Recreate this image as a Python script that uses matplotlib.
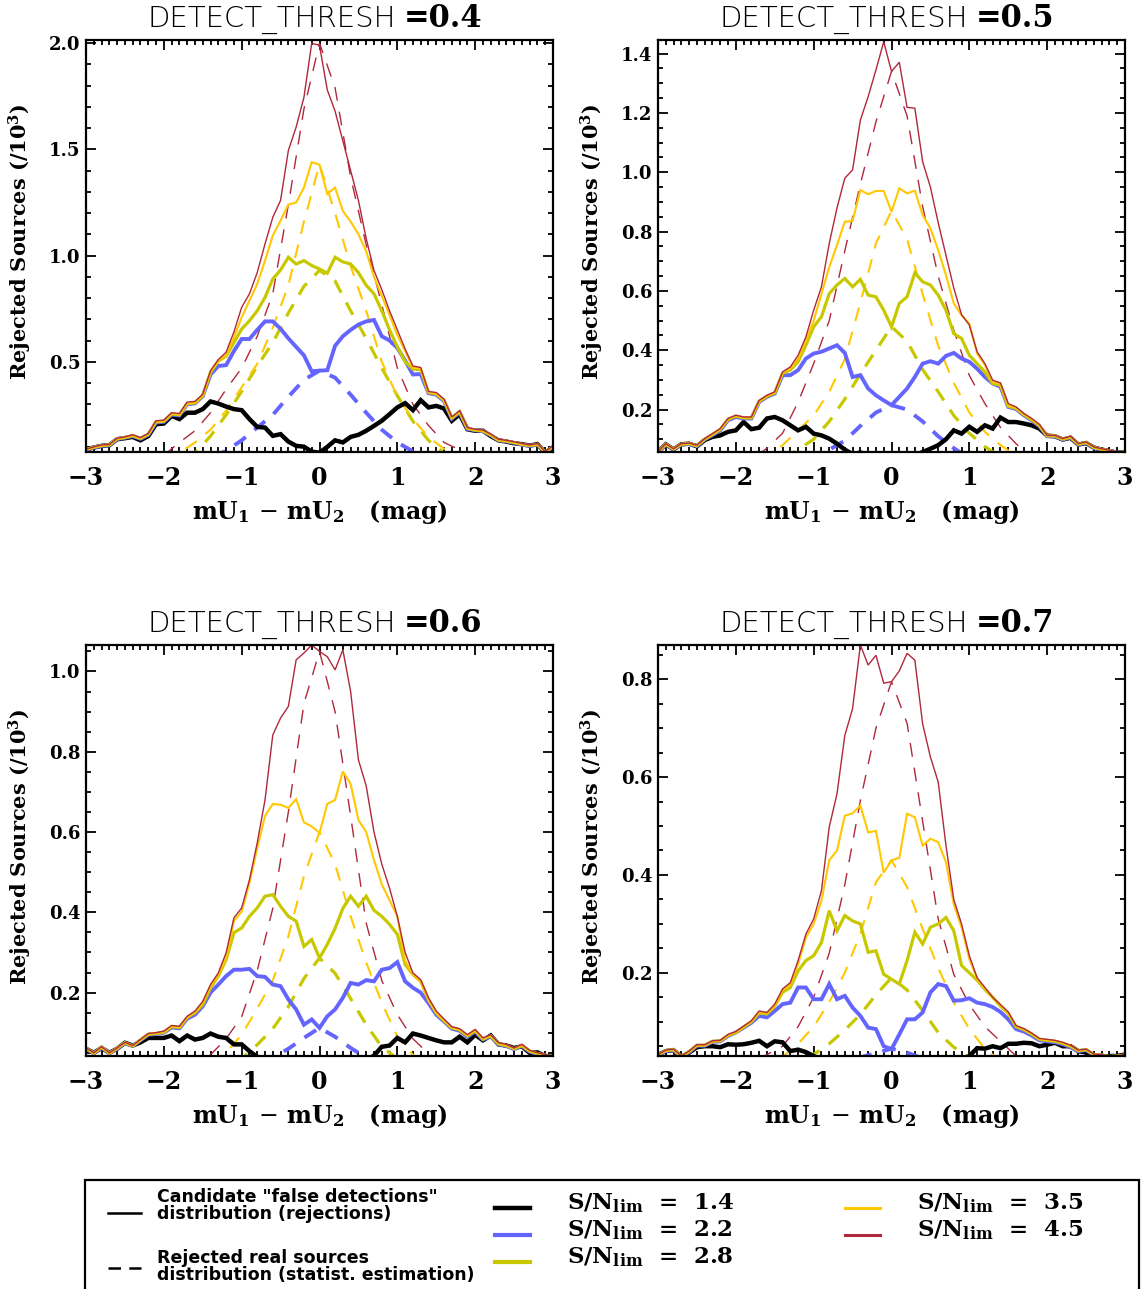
import numpy as np
import matplotlib
matplotlib.use('Agg')
import matplotlib.pyplot as plt
from matplotlib.lines import Line2D
from matplotlib.patches import Rectangle
from matplotlib.ticker import MultipleLocator, FormatStrFormatter

plt.rcParams['mathtext.fontset'] = 'dejavuserif'
plt.rcParams['lines.scale_dashes'] = False
plt.rcParams['axes.unicode_minus'] = True

# ---------------- data ----------------
thresholds = ['0.4', '0.5', '0.6', '0.7']
sn_labels = ['1.4', '2.2', '2.8', '3.5', '4.5']
x_bins = np.linspace(-3.0, 3.0, 61)     # bin centres (mag)
x_dash = np.linspace(-2.0, 2.0, 21)     # estimation grid (mag)

# Panel 1 : DETECT_THRESH = 0.4  (solid: rejections, /10^3)
black1 = [0.088,0.096,0.104,0.107,0.135,0.140,0.146,0.130,0.150,0.206,
          0.209,0.245,0.230,0.260,0.260,0.277,0.313,0.303,0.289,0.277,
          0.272,0.230,0.193,0.190,0.151,0.159,0.124,0.104,0.100,0.077,
          0.072,0.099,0.130,0.120,0.146,0.156,0.175,0.198,0.222,0.253,
          0.285,0.305,0.272,0.319,0.285,0.292,0.280,0.222,0.253,0.182,
          0.175,0.175,0.150,0.130,0.124,0.116,0.112,0.105,0.112,0.072,0.096]
blue1 = [0.086,0.096,0.104,0.107,0.136,0.142,0.150,0.137,0.156,0.214,
         0.217,0.251,0.247,0.300,0.304,0.338,0.440,0.480,0.484,0.550,
         0.607,0.607,0.650,0.690,0.690,0.655,0.610,0.570,0.530,0.455,
         0.458,0.460,0.575,0.620,0.650,0.675,0.690,0.697,0.620,0.600,
         0.565,0.505,0.440,0.442,0.352,0.345,0.315,0.232,0.262,0.184,
         0.177,0.173,0.154,0.130,0.125,0.118,0.110,0.104,0.110,0.073,0.099]
green1 = [0.087,0.097,0.105,0.108,0.137,0.143,0.152,0.139,0.158,0.217,
          0.220,0.254,0.250,0.303,0.306,0.340,0.450,0.503,0.526,0.590,
          0.654,0.693,0.740,0.803,0.890,0.932,0.992,0.960,0.976,0.953,
          0.937,0.917,0.992,0.970,0.960,0.920,0.860,0.820,0.740,0.650,
          0.570,0.500,0.465,0.463,0.355,0.348,0.318,0.235,0.264,0.186,
          0.178,0.174,0.155,0.131,0.126,0.119,0.111,0.105,0.111,0.074,0.100]
gold1 = [0.087,0.097,0.106,0.108,0.138,0.144,0.153,0.140,0.159,0.218,
         0.221,0.256,0.252,0.305,0.308,0.342,0.454,0.505,0.530,0.615,
         0.709,0.788,0.866,0.976,1.094,1.165,1.240,1.250,1.320,1.440,
         1.428,1.290,1.320,1.210,1.160,1.100,1.020,0.900,0.810,0.720,
         0.625,0.550,0.473,0.468,0.357,0.350,0.320,0.236,0.266,0.187,
         0.179,0.175,0.156,0.132,0.127,0.120,0.112,0.106,0.112,0.075,0.101]
red1 = [0.088,0.099,0.108,0.110,0.140,0.146,0.156,0.143,0.162,0.222,
        0.225,0.260,0.256,0.310,0.313,0.347,0.458,0.510,0.545,0.640,
        0.756,0.820,0.920,1.055,1.180,1.260,1.495,1.605,1.745,2.000,
        1.990,1.780,1.680,1.540,1.400,1.260,1.080,0.930,0.840,0.740,
        0.650,0.560,0.480,0.473,0.360,0.355,0.324,0.240,0.270,0.190,
        0.182,0.178,0.159,0.135,0.130,0.123,0.115,0.108,0.115,0.077,0.104]
d_blue1 = [0.0,0.01,0.03,0.05,0.08,0.13,0.19,0.25,0.335,0.415,0.458,0.425,0.345,0.26,0.18,0.12,0.078,0.05,0.03,0.01,0.0]
d_green1 = [0.0,0.02,0.07,0.15,0.25,0.36,0.48,0.59,0.73,0.855,0.93,0.88,0.74,0.61,0.47,0.34,0.22,0.13,0.07,0.02,0.0]
d_gold1 = [0.03,0.07,0.12,0.18,0.27,0.38,0.49,0.66,0.86,1.16,1.43,1.2,0.95,0.74,0.5,0.335,0.23,0.145,0.09,0.05,0.02]
d_red1 = [0.06,0.12,0.175,0.26,0.37,0.47,0.62,0.82,1.24,1.69,2.0,1.79,1.37,1.05,0.77,0.47,0.3,0.2,0.12,0.085,0.06]

# Panel 2 : DETECT_THRESH = 0.5
black2 = [0.057,0.083,0.066,0.083,0.085,0.076,0.097,0.108,0.113,0.125,
          0.130,0.158,0.134,0.139,0.170,0.175,0.164,0.147,0.130,0.142,
          0.119,0.113,0.102,0.085,0.065,0.050,0.055,0.050,0.040,0.040,
          0.040,0.040,0.040,0.045,0.057,0.068,0.080,0.100,0.130,0.119,
          0.142,0.125,0.147,0.136,0.173,0.158,0.158,0.153,0.147,0.136,
          0.112,0.110,0.099,0.105,0.082,0.087,0.072,0.065,0.060,0.055,0.057]
blue2 = [0.055,0.082,0.066,0.082,0.084,0.077,0.099,0.114,0.130,0.164,
         0.175,0.170,0.170,0.226,0.243,0.254,0.316,0.316,0.333,0.372,
         0.389,0.395,0.406,0.417,0.391,0.310,0.316,0.271,0.248,0.231,
         0.215,0.243,0.271,0.310,0.355,0.363,0.355,0.381,0.391,0.372,
         0.361,0.338,0.310,0.288,0.277,0.209,0.202,0.181,0.164,0.144,
         0.110,0.110,0.099,0.106,0.082,0.088,0.071,0.065,0.060,0.055,0.057]
green2 = [0.056,0.083,0.067,0.083,0.085,0.078,0.100,0.116,0.133,0.167,
          0.178,0.172,0.172,0.228,0.245,0.256,0.322,0.333,0.361,0.417,
          0.479,0.513,0.591,0.620,0.642,0.614,0.639,0.586,0.580,0.535,
          0.479,0.558,0.580,0.661,0.631,0.620,0.586,0.535,0.456,0.440,
          0.383,0.355,0.327,0.288,0.282,0.211,0.204,0.183,0.166,0.146,
          0.111,0.111,0.100,0.107,0.083,0.089,0.072,0.066,0.061,0.055,0.058]
gold2 = [0.056,0.084,0.067,0.084,0.086,0.079,0.101,0.117,0.134,0.168,
         0.179,0.173,0.173,0.229,0.246,0.258,0.325,0.338,0.372,0.434,
         0.500,0.590,0.680,0.755,0.833,0.836,0.940,0.926,0.937,0.937,
         0.867,0.946,0.929,0.938,0.856,0.811,0.738,0.653,0.558,0.518,
         0.490,0.389,0.350,0.293,0.288,0.215,0.206,0.185,0.168,0.148,
         0.112,0.112,0.101,0.108,0.084,0.090,0.073,0.067,0.062,0.056,0.059]
red2 = [0.057,0.085,0.068,0.085,0.087,0.080,0.102,0.119,0.136,0.170,
        0.181,0.175,0.175,0.231,0.248,0.260,0.327,0.344,0.383,0.445,
        0.535,0.614,0.760,0.880,0.980,1.008,1.176,1.255,1.345,1.440,
        1.340,1.371,1.219,1.216,1.036,0.950,0.830,0.720,0.610,0.520,
        0.485,0.395,0.355,0.299,0.290,0.220,0.209,0.187,0.170,0.150,
        0.113,0.113,0.102,0.110,0.085,0.091,0.074,0.068,0.063,0.057,0.060]
d_blue2 = [0,0,0,0,0.01,0.035,0.065,0.095,0.145,0.19,0.215,0.2,0.16,0.11,0.07,0.035,0.01,0,0,0,0]
d_green2 = [0,0,0.01,0.03,0.065,0.1,0.16,0.235,0.32,0.4,0.48,0.43,0.335,0.26,0.18,0.12,0.075,0.04,0.02,0,0]
d_gold2 = [0,0.02,0.04,0.08,0.13,0.18,0.26,0.37,0.56,0.76,0.87,0.775,0.59,0.415,0.29,0.19,0.125,0.08,0.045,0.02,0]
d_red2 = [0,0.03,0.07,0.12,0.225,0.355,0.5,0.735,0.96,1.17,1.34,1.19,0.885,0.65,0.468,0.315,0.22,0.14,0.085,0.035,0]

# Panel 3 : DETECT_THRESH = 0.6
black3 = [0.060,0.050,0.062,0.050,0.060,0.075,0.068,0.076,0.087,0.087,
          0.087,0.093,0.079,0.093,0.083,0.087,0.098,0.090,0.087,0.071,
          0.071,0.054,0.040,0.030,0.030,0.030,0.030,0.030,0.030,0.030,
          0.030,0.030,0.030,0.030,0.030,0.030,0.030,0.043,0.065,0.068,
          0.087,0.076,0.098,0.093,0.087,0.081,0.076,0.076,0.090,0.076,
          0.095,0.081,0.093,0.071,0.068,0.062,0.066,0.050,0.051,0.042,0.040]
blue3 = [0.060,0.049,0.063,0.049,0.060,0.074,0.067,0.081,0.095,0.097,
         0.100,0.113,0.111,0.135,0.145,0.166,0.200,0.220,0.241,0.257,
         0.257,0.259,0.241,0.239,0.220,0.216,0.183,0.158,0.120,0.133,
         0.112,0.141,0.158,0.187,0.224,0.220,0.231,0.228,0.257,0.261,
         0.276,0.228,0.212,0.200,0.174,0.145,0.128,0.110,0.105,0.090,
         0.103,0.083,0.091,0.071,0.067,0.059,0.067,0.053,0.047,0.043,0.040]
green3 = [0.061,0.049,0.064,0.049,0.061,0.075,0.067,0.082,0.096,0.098,
          0.101,0.115,0.113,0.138,0.150,0.170,0.212,0.241,0.282,0.349,
          0.361,0.390,0.411,0.440,0.444,0.415,0.390,0.378,0.315,0.332,
          0.286,0.320,0.360,0.410,0.440,0.415,0.440,0.405,0.390,0.370,
          0.345,0.270,0.245,0.228,0.183,0.149,0.130,0.112,0.107,0.092,
          0.105,0.084,0.092,0.072,0.068,0.060,0.068,0.054,0.048,0.044,0.041]
gold3 = [0.061,0.049,0.064,0.049,0.061,0.075,0.067,0.082,0.097,0.099,
         0.102,0.116,0.114,0.139,0.152,0.176,0.216,0.245,0.286,0.378,
         0.402,0.473,0.560,0.640,0.670,0.668,0.660,0.682,0.624,0.614,
         0.598,0.670,0.680,0.751,0.720,0.630,0.600,0.530,0.470,0.430,
         0.390,0.280,0.245,0.228,0.180,0.150,0.131,0.113,0.108,0.093,
         0.106,0.085,0.093,0.073,0.069,0.061,0.069,0.055,0.049,0.045,0.041]
red3 = [0.062,0.050,0.065,0.050,0.062,0.076,0.068,0.083,0.098,0.100,
        0.104,0.118,0.116,0.141,0.154,0.178,0.220,0.249,0.299,0.386,
        0.411,0.481,0.573,0.680,0.842,0.884,0.913,1.029,1.046,1.066,
        1.050,1.037,1.004,1.054,0.950,0.780,0.715,0.600,0.520,0.460,
        0.390,0.300,0.249,0.232,0.187,0.154,0.134,0.115,0.110,0.095,
        0.108,0.087,0.095,0.075,0.071,0.062,0.071,0.056,0.050,0.046,0.042]
d_blue3 = [0,0,0,0,0,0,0.02,0.038,0.06,0.087,0.112,0.09,0.062,0.038,0.02,0,0,0,0,0,0]
d_green3 = [0,0,0,0,0.01,0.035,0.07,0.11,0.165,0.235,0.286,0.248,0.185,0.12,0.065,0.035,0.01,0,0,0,0]
d_gold3 = [0,0,0,0.015,0.05,0.095,0.16,0.23,0.34,0.49,0.6,0.52,0.39,0.275,0.175,0.09,0.045,0.02,0,0,0]
d_red3 = [0,0.005,0.02,0.045,0.085,0.14,0.255,0.41,0.65,0.92,1.05,0.9,0.64,0.373,0.23,0.145,0.085,0.048,0.02,0.005,0]

# Panel 4 : DETECT_THRESH = 0.7
black4 = [0.032,0.040,0.042,0.028,0.037,0.048,0.050,0.050,0.048,0.054,
          0.053,0.054,0.057,0.061,0.050,0.060,0.058,0.040,0.043,0.038,
          0.030,0.020,0.015,0.015,0.015,0.015,0.015,0.015,0.015,0.015,
          0.015,0.015,0.015,0.015,0.015,0.015,0.015,0.015,0.015,0.020,
          0.030,0.046,0.045,0.050,0.046,0.055,0.055,0.057,0.056,0.050,
          0.053,0.057,0.050,0.050,0.040,0.037,0.030,0.028,0.030,0.030,0.033]
blue4 = [0.031,0.040,0.042,0.028,0.038,0.051,0.051,0.059,0.060,0.071,
         0.078,0.088,0.098,0.112,0.109,0.122,0.136,0.139,0.170,0.170,
         0.146,0.146,0.177,0.146,0.153,0.129,0.112,0.088,0.085,0.050,
         0.044,0.074,0.105,0.105,0.119,0.160,0.177,0.173,0.143,0.144,
         0.148,0.139,0.136,0.130,0.120,0.105,0.085,0.080,0.072,0.062,
         0.060,0.058,0.054,0.048,0.040,0.042,0.032,0.031,0.028,0.029,0.031]
green4 = [0.032,0.041,0.043,0.029,0.039,0.052,0.052,0.060,0.061,0.072,
          0.078,0.089,0.100,0.118,0.116,0.132,0.160,0.170,0.204,0.225,
          0.235,0.262,0.327,0.286,0.317,0.306,0.300,0.242,0.245,0.197,
          0.187,0.177,0.225,0.283,0.259,0.293,0.300,0.313,0.286,0.215,
          0.200,0.185,0.166,0.150,0.132,0.117,0.090,0.084,0.075,0.064,
          0.062,0.060,0.056,0.050,0.041,0.043,0.033,0.032,0.029,0.030,0.032]
gold4 = [0.032,0.041,0.043,0.029,0.039,0.052,0.052,0.060,0.061,0.073,
         0.079,0.090,0.101,0.120,0.118,0.134,0.165,0.177,0.218,0.272,
         0.300,0.347,0.430,0.450,0.521,0.526,0.542,0.487,0.490,0.405,
         0.430,0.435,0.525,0.518,0.460,0.474,0.467,0.426,0.340,0.293,
         0.228,0.188,0.168,0.151,0.134,0.118,0.091,0.085,0.076,0.065,
         0.063,0.061,0.057,0.051,0.041,0.043,0.033,0.032,0.029,0.030,0.032]
red4 = [0.033,0.042,0.044,0.030,0.040,0.053,0.053,0.061,0.062,0.074,
        0.080,0.091,0.102,0.122,0.119,0.136,0.167,0.180,0.225,0.279,
        0.310,0.368,0.498,0.566,0.685,0.740,0.870,0.829,0.849,0.792,
        0.795,0.817,0.853,0.839,0.709,0.641,0.590,0.460,0.350,0.300,
        0.235,0.190,0.170,0.150,0.135,0.120,0.092,0.086,0.077,0.066,
        0.064,0.062,0.058,0.052,0.042,0.044,0.034,0.033,0.030,0.031,0.033]
d_blue4 = [0,0,0,0,0,0,0,0.015,0.027,0.036,0.045,0.037,0.025,0.012,0,0,0,0,0,0,0]
d_green4 = [0,0,0,0,0.015,0.033,0.055,0.083,0.115,0.155,0.19,0.165,0.123,0.078,0.048,0.028,0.012,0,0,0,0]
d_gold4 = [0,0,0,0.028,0.055,0.09,0.14,0.2,0.28,0.385,0.43,0.375,0.29,0.21,0.14,0.085,0.045,0.02,0,0,0]
d_red4 = [0.005,0.015,0.033,0.05,0.09,0.15,0.24,0.38,0.552,0.7,0.795,0.71,0.51,0.31,0.197,0.135,0.09,0.06,0.03,0.012,0]

solid_sets = [[black1, blue1, green1, gold1, red1],
              [black2, blue2, green2, gold2, red2],
              [black3, blue3, green3, gold3, red3],
              [black4, blue4, green4, gold4, red4]]
dash_sets = [[d_blue1, d_green1, d_gold1, d_red1],
             [d_blue2, d_green2, d_gold2, d_red2],
             [d_blue3, d_green3, d_gold3, d_red3],
             [d_blue4, d_green4, d_gold4, d_red4]]

# ---------------- style ----------------
colors = ['#000000', '#6464FF', '#C8C800', '#FFC800', '#B0283C']
solid_lw = [3.2, 2.8, 2.3, 1.5, 1.0]
dash_lw = [2.8, 2.3, 1.5, 1.0]
ylims = [(0.075, 2.015), (0.057, 1.446), (0.042, 1.066), (0.03, 0.87)]
ymaj = [0.5, 0.2, 0.2, 0.2]
ymin = [0.1, 0.05, 0.05, 0.05]

W, H = 1142, 1289
fig = plt.figure(figsize=(W / 100, H / 100), dpi=100)

def fx(px):
    return px / W

def fy(py):
    return 1 - py / H

rects = [(86, 40, 553, 452), (658, 40, 1125, 452),
         (86, 645, 553, 1056), (658, 645, 1125, 1056)]

serif = 'DejaVu Serif'
for i, (l, t, r, b) in enumerate(rects):
    ax = fig.add_axes([fx(l), fy(b), fx(r) - fx(l), (b - t) / H])
    for j, d in enumerate(dash_sets[i]):
        ax.plot(x_dash, d, color=colors[j + 1], lw=dash_lw[j], dashes=(10, 8))
    for j, s in enumerate(solid_sets[i]):
        ax.plot(x_bins, s, color=colors[j], lw=solid_lw[j], solid_joinstyle='miter')
    ax.set_xlim(-3, 3)
    ax.set_ylim(*ylims[i])
    ax.xaxis.set_major_locator(MultipleLocator(1))
    ax.xaxis.set_minor_locator(MultipleLocator(0.1))
    ax.yaxis.set_major_locator(MultipleLocator(ymaj[i]))
    ax.yaxis.set_minor_locator(MultipleLocator(ymin[i]))
    ax.yaxis.set_major_formatter(FormatStrFormatter('%.1f'))
    ax.tick_params(which='both', direction='in', top=True, right=True, width=1.3)
    ax.tick_params(which='major', length=7)
    ax.tick_params(which='minor', length=3.5)
    ax.tick_params(axis='x', which='major', pad=10, labelsize=17)
    ax.tick_params(axis='y', which='major', pad=4, labelsize=13)
    for lab in ax.get_xticklabels() + ax.get_yticklabels():
        lab.set_family(serif)
        lab.set_fontweight('bold')
    for sp in ax.spines.values():
        sp.set_linewidth(1.6)
    ax.set_xlabel(r'mU$_\mathbf{1}$ $-$ mU$_\mathbf{2}$   (mag)', fontsize=17,
                  family=serif, fontweight='bold')
    ax.xaxis.set_label_coords(0.5, -0.145)
    ax.xaxis.label.set_va('center')
    ax.set_ylabel(r'Rejected Sources (/10$^\mathbf{3}$)', fontsize=15,
                  family=serif, fontweight='bold')
    ax.yaxis.set_label_coords(-0.14, 0.51)
    ax.yaxis.label.set_va('center')
    ax.text(0.664, 1.032, 'DETECT_THRESH', transform=ax.transAxes,
            ha='right', va='baseline', fontsize=21,
            family='DejaVu Sans', fontweight='light')
    ax.text(0.681, 1.032, '=' + thresholds[i], transform=ax.transAxes,
            ha='left', va='baseline', fontsize=22, family=serif, fontweight='bold')

# ---------------- legend box ----------------
fig.add_artist(Rectangle((fx(85), fy(1300)), fx(1139) - fx(85), fy(1180) - fy(1300),
                         transform=fig.transFigure, fill=False, lw=1.6,
                         edgecolor='black', clip_on=False))
fig.add_artist(Line2D([fx(108), fx(141)], [fy(1213), fy(1213)], color='black', lw=1.8,
                      transform=fig.transFigure))
fig.add_artist(Line2D([fx(108), fx(141)], [fy(1268), fy(1268)], color='black', lw=1.8,
                      dashes=(9, 6), transform=fig.transFigure))
lfont = dict(family='DejaVu Sans', fontweight='bold', fontsize=12.5,
             va='baseline', ha='left')
fig.text(fx(157), fy(1202), 'Candidate "false detections"', **lfont)
fig.text(fx(157), fy(1219), 'distribution (rejections)', **lfont)
fig.text(fx(157), fy(1263), 'Rejected real sources', **lfont)
fig.text(fx(157), fy(1280), 'distribution (statist. estimation)', **lfont)

leg_pos = [(495, 567, 1208), (495, 567, 1235), (495, 567, 1262),
           (845, 917, 1208), (845, 917, 1235)]
leg_lw = [3.2, 3.0, 3.0, 2.2, 2.2]
for k, (lx, tx, yy) in enumerate(leg_pos):
    fig.add_artist(Line2D([fx(lx), fx(lx + 35)], [fy(yy), fy(yy)], color=colors[k],
                          lw=leg_lw[k], transform=fig.transFigure))
    fig.text(fx(tx), fy(yy + 1), r'S/N$_\mathbf{lim}$  =  ' + sn_labels[k],
             family=serif, fontweight='bold', fontsize=16.5, va='baseline', ha='left')

fig.savefig('out.png', dpi=100)
